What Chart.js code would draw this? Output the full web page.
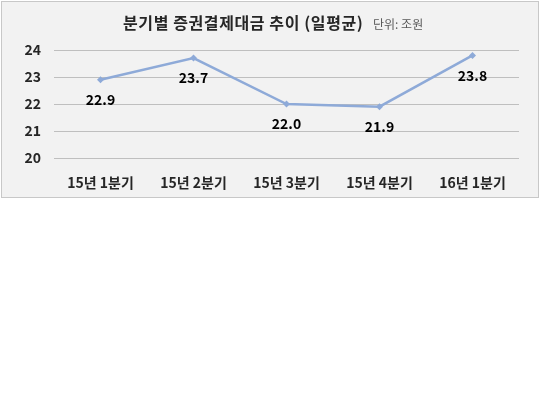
<!DOCTYPE html>
<html>
<head>
<meta charset="utf-8">
<script src="https://cdn.jsdelivr.net/npm/chart.js@4"></script>
<style>
  html, body { margin: 0; padding: 0; background: #fff; }
  #wrap { width: 540px; height: 398px; }
</style>
</head>
<body>
<div id="wrap"><canvas id="myChart" width="540" height="398"></canvas></div>
<script>
const ctx = document.getElementById('myChart').getContext('2d');

const labels = ['15년 1분기', '15년 2분기', '15년 3분기', '15년 4분기', '16년 1분기'];
const values = [22.9, 23.7, 22.0, 21.9, 23.8];
const yTicks = [20, 21, 22, 23, 24];
const titleText = '분기별 증권결제대금 추이 (일평균)';
const unitText = '단위: 조원';

const FONT = '"Noto Sans CJK KR", "Noto Sans", sans-serif';

// grey panel behind the chart
const panel = {
    id: 'panel',
    beforeDraw(chart) {
        const c = chart.ctx;
        c.save();
        c.fillStyle = '#f2f2f2';
        c.fillRect(1, 1, 537, 196);
        c.strokeStyle = '#c8c8c8';
        c.lineWidth = 1;
        c.strokeRect(1.5, 1.5, 537, 196);
        c.restore();
    }
};

// title + unit on one line
const heading = {
    id: 'heading',
    afterDraw(chart) {
        const c = chart.ctx;
        c.save();
        c.textBaseline = 'middle';
        c.textAlign = 'left';
        c.fillStyle = '#262626';
        c.font = 'bold 16px ' + FONT;
        c.letterSpacing = '0.6px';
        c.fillText(titleText, 123, 23);
        c.fillStyle = '#595959';
        c.font = '12px ' + FONT;
        c.letterSpacing = '0px';
        c.fillText(unitText, 373, 24);
        c.restore();
    }
};

// value labels under each point
const valueLabels = {
    id: 'valueLabels',
    afterDatasetsDraw(chart) {
        const c = chart.ctx;
        const meta = chart.getDatasetMeta(0);
        c.save();
        c.font = 'bold 14px ' + FONT;
        c.fillStyle = '#000';
        c.textAlign = 'center';
        c.textBaseline = 'middle';
        meta.data.forEach((pt, i) => {
            c.fillText(values[i].toFixed(1), pt.x, pt.y + 20);
        });
        c.restore();
    }
};

const data = {
    labels,
    datasets: [
        {
            data: values,
            borderColor: '#8eaad8',
            backgroundColor: '#8eaad8',
            borderWidth: 2.5,
            pointStyle: 'rectRot',
            pointRadius: 3.5,
            pointBackgroundColor: '#8eaad8',
            pointBorderWidth: 0,
            tension: 0
        },
    ],
};

const config = {
    type: 'line',
    data: data,
    options: {
        responsive: false,
        animation: false,
        layout: {
            padding: { top: 50, right: 21, bottom: 200, left: 0 }
        },
        plugins: {
            legend: { display: false },
            tooltip: { enabled: false },
            title: { display: false }
        },
        scales: {
            x: {
                offset: true,
                grid: { display: false, drawTicks: false },
                border: { display: false },
                ticks: {
                    color: '#262626',
                    padding: 16,
                    maxRotation: 0,
                    font: { family: FONT, size: 14, weight: 'bold' }
                },
                afterFit(scale) { scale.height = 40; }
            },
            y: {
                min: yTicks[0],
                max: yTicks[yTicks.length - 1],
                afterBuildTicks(scale) { scale.ticks = yTicks.map(v => ({ value: v })); },
                grid: { color: '#bfbfbf', lineWidth: 1, drawTicks: false },
                border: { display: false },
                ticks: {
                    color: '#262626',
                    padding: 13,
                    font: { family: FONT, size: 14, weight: 'bold' }
                },
                afterFit(scale) { scale.width = 54; }
            }
        }
    },
    plugins: [panel, heading, valueLabels]
};

const myChart = new Chart(ctx, config);
</script>
</body>
</html>
